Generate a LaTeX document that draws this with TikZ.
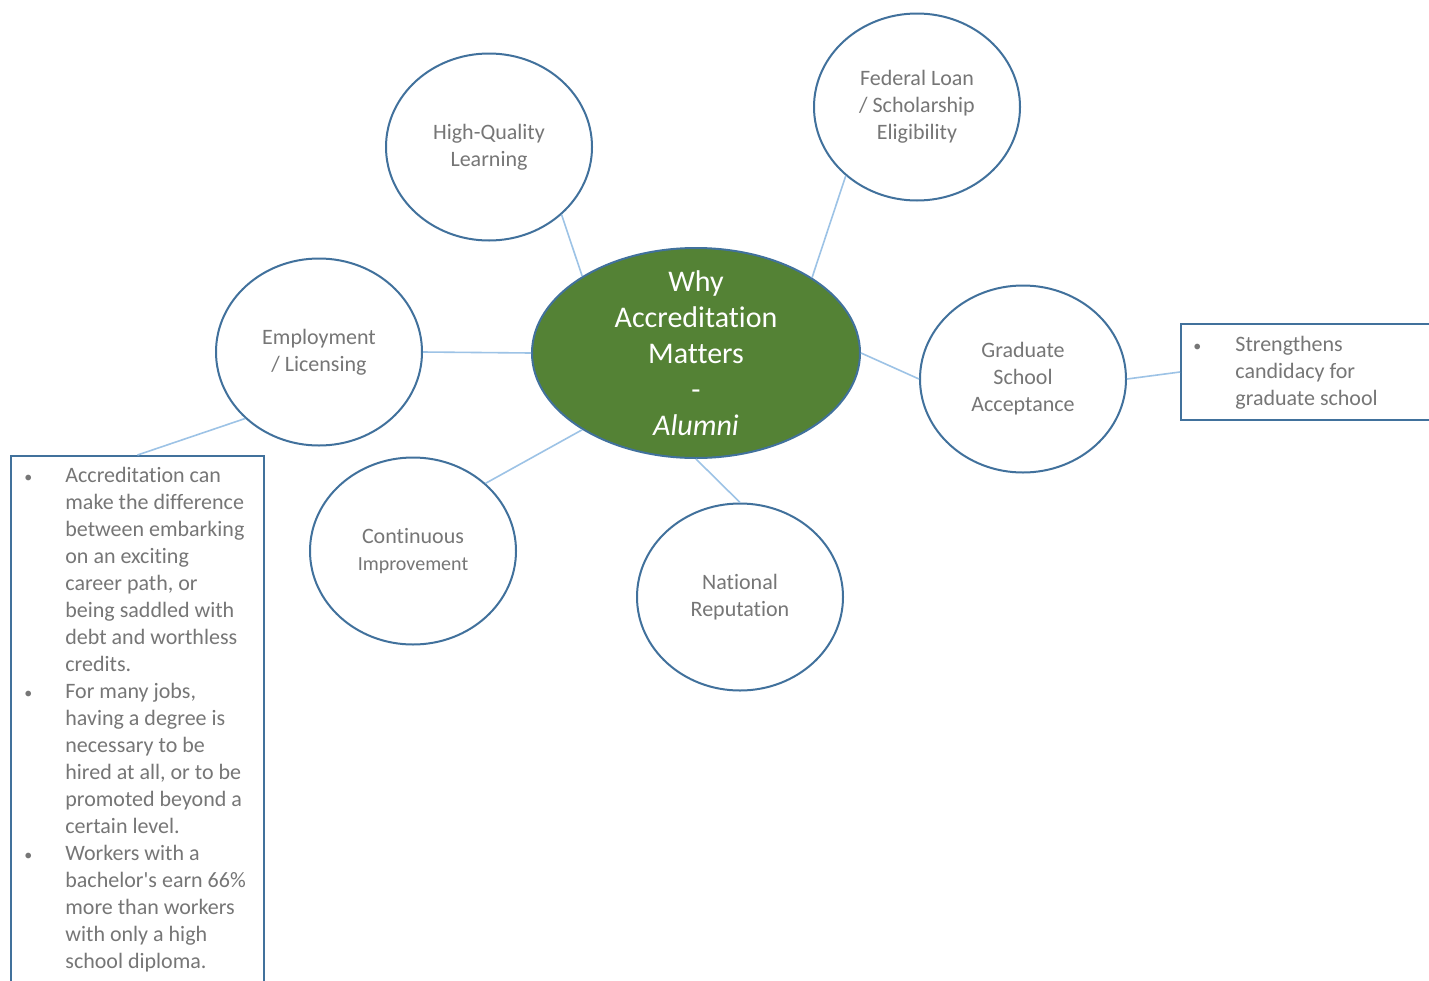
\documentclass[tikz,border=0pt]{standalone}
\usepackage{fontspec}
\setmainfont{Carlito}[Ligatures={TeX,NoCommon}]
\usepackage{xcolor}
\usetikzlibrary{shapes,positioning}

\definecolor{ringblue}{HTML}{41719C}
\definecolor{linkblue}{HTML}{9DC3E6}
\definecolor{textgray}{HTML}{767676}
\definecolor{hubgreen}{HTML}{548235}

\begin{document}
\begin{tikzpicture}[x=0.5pt,y=-0.5pt,
    bubble/.style={ellipse, draw=ringblue, line width=1pt, fill=white, minimum width=103pt, minimum height=93.5pt, inner sep=0pt, align=center, text=textgray, font=\fontsize{11}{13.5}\selectfont},
    hub/.style={ellipse, draw=ringblue, line width=1pt, fill=hubgreen, minimum width=164pt, minimum height=105pt, inner sep=0pt},
    hubtext/.style={align=center, inner sep=0pt, text=white, font=\fontsize{15}{18}\selectfont},
    link/.style={draw=linkblue, line width=0.8pt},
    notebox/.style={rectangle, draw=ringblue, line width=1pt, inner sep=0pt, anchor=north west},
    notetext/.style={anchor=north west, inner sep=0pt, text=textgray, font=\fontsize{11}{13.5}\selectfont}]

    \useasboundingbox (0,0) rectangle (1429,980);
    \fill[white] (0,0) rectangle (1429,980);
    \clip (0,0) rectangle (1429,980);

    % hub and bubbles
    \node[hub] (why) at (696,353) {};
    \node[hubtext] (whylabel) at (why) {Why\\Accreditation\\Matters\\-\\\textit{Alumni}};
    \node[bubble] (quality) at (489,147) {High-Quality\\Learning};
    \node[bubble] (loan) at (917,107) {Federal Loan\\/ Scholarship\\Eligibility};
    \node[bubble] (jobs) at (319,352) {Employment\\/ Licensing};
    \node[bubble] (grad) at (1023,379) {Graduate\\School\\Acceptance};
    \node[bubble] (improve) at (413,551) {Continuous\\{\fontsize{10}{13.5}\selectfont Improvement}};
    \node[bubble] (reputation) at (740,597) {National\\Reputation};

    % side notes
    \node[notebox, minimum width=126.5pt, minimum height=270pt] (jobsbox) at (10,455) {};
    \node[notetext] (jobsnote) at (24,463) {%
        \begin{tabular}{@{}p{20.5pt}@{}l@{}}
            {\footnotesize\textbullet} & Accreditation can\\
             & make the difference\\
             & between embarking\\
             & on an exciting\\
             & career path, or\\
             & being saddled with\\
             & debt and worthless\\
             & credits.\\
            {\footnotesize\textbullet} & For many jobs,\\
             & having a degree is\\
             & necessary to be\\
             & hired at all, or to be\\
             & promoted beyond a\\
             & certain level.\\
            {\footnotesize\textbullet} & Workers with a\\
             & bachelor\textquotesingle s earn 66\%\\
             & more than workers\\
             & with only a high\\
             & school diploma.
        \end{tabular}};
    \node[notebox, minimum width=130pt, minimum height=48pt] (gradbox) at (1180,323) {};
    \node[notetext] (gradnote) at (1193,332) {%
        \begin{tabular}{@{}p{21pt}@{}l@{}}
            {\footnotesize\textbullet} & Strengthens\\
             & candidacy for\\
             & graduate school
        \end{tabular}};

    % connectors
    \draw[link] (quality.-43) -- (why.146);
    \draw[link] (loan.224) -- (why.33);
    \draw[link] (jobs.east) -- (why.west);
    \draw[link] (why.east) -- (grad.west);
    \draw[link] (improve.43) -- (why.214);
    \draw[link] (reputation.north) -- (why.south);
    \draw[link] (jobs.222) -- (jobsbox.north);
    \draw[link] (grad.east) -- (gradbox.west);
\end{tikzpicture}
\end{document}
